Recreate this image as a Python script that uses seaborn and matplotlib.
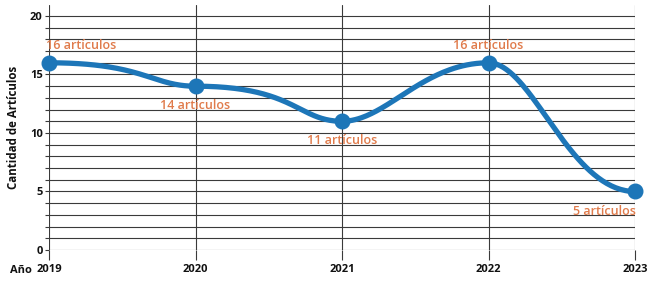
import numpy as np
import pandas as pd
import seaborn as sns
import matplotlib
matplotlib.use("Agg")
import matplotlib.pyplot as plt

# ---- data ----
years = [2019, 2020, 2021, 2022, 2023]
counts = [16, 14, 11, 16, 5]
point_labels = ["16 artículos", "14 artículos", "11 artículos", "16 artículos", "5 artículos"]
y_ticks = [0, 5, 10, 15, 20]

# ---- style ----
BLUE = "#1d76b8"
ORANGE = "#e07b4b"
GRID = "#3a3a3a"
# bezier handle fractions (out of each start point, into each end point) to mimic smoothing
handle_out = [0.65, 0.68, 0.30, 0.30]
handle_in = [0.30, 0.30, 0.45, 0.45]

sns.set_theme(style="white")
plt.rcParams["font.family"] = ["Open Sans", "DejaVu Sans"]

fig = plt.figure(figsize=(6.61, 2.85), dpi=100)
ax = fig.add_axes([49 / 661, 1 - 250 / 285, (635 - 49) / 661, (250 - 5) / 285])

# smooth curve: cubic bezier with horizontal tangents at each point
xs, ys = [], []
t = np.linspace(0, 1, 80)
for i in range(len(years) - 1):
    x0, x1 = years[i], years[i + 1]
    y0, y1 = counts[i], counts[i + 1]
    dx = x1 - x0
    c1x, c2x = x0 + handle_out[i] * dx, x1 - handle_in[i] * dx
    bx = (1 - t) ** 3 * x0 + 3 * (1 - t) ** 2 * t * c1x + 3 * (1 - t) * t ** 2 * c2x + t ** 3 * x1
    by = (1 - t) ** 3 * y0 + 3 * (1 - t) ** 2 * t * y0 + 3 * (1 - t) * t ** 2 * y1 + t ** 3 * y1
    xs.extend(bx if i == 0 else bx[1:])
    ys.extend(by if i == 0 else by[1:])
curve = pd.DataFrame({"x": xs, "y": ys})
df = pd.DataFrame({"year": years, "count": counts})

for v in range(0, 21):
    ax.axhline(v, color=GRID, lw=0.8, zorder=1)
for yr in years:
    ax.axvline(yr, color=GRID, lw=0.8, zorder=1)

sns.lineplot(data=curve, x="x", y="y", sort=False, ax=ax, color=BLUE, lw=3.8,
             zorder=3, solid_capstyle="round", clip_on=False)
ax.plot(df["year"], df["count"], "o", color=BLUE, ms=10.5, zorder=4, clip_on=False)

offsets = [(-3, 17, "left"), (0, -19, "center"), (0, -19, "center"), (0, 17, "center"), (1, -20, "right")]
for yr, c, lab, (ox, oy, ha) in zip(years, counts, point_labels, offsets):
    ax.annotate(lab, (yr, c), xytext=(ox, oy), textcoords="offset pixels",
                ha=ha, va="center", color=ORANGE, fontsize=9, fontweight="semibold", zorder=5)

ax.set_xlim(2019, 2023)
ax.set_ylim(0, 20.94)
ax.set_xticks(years)
ax.set_xticklabels([str(y) for y in years], fontsize=8, fontweight="bold", color="#111111")
ax.set_yticks(y_ticks)
ax.set_yticklabels([str(v) for v in y_ticks], fontsize=8, fontweight="bold", color="#111111")
ax.set_yticks(range(0, 21), minor=True)
ax.tick_params(axis="x", which="major", length=7, width=0.8, color=GRID, pad=3)
ax.tick_params(axis="y", which="both", length=3, width=0.8, color=GRID, pad=1.5, left=True)
ax.tick_params(axis="x", bottom=True)
for s in ax.spines.values():
    s.set_visible(False)
ax.set_xlabel("")
ax.set_ylabel("Cantidad de Artículos", fontsize=8.3, fontweight="bold", color="#111111", labelpad=7)
ax.text(-0.067, -0.083, "Año", transform=ax.transAxes, ha="left", va="center",
        fontsize=8, fontweight="bold", color="#111111")

fig.savefig("out.png", dpi=100)
